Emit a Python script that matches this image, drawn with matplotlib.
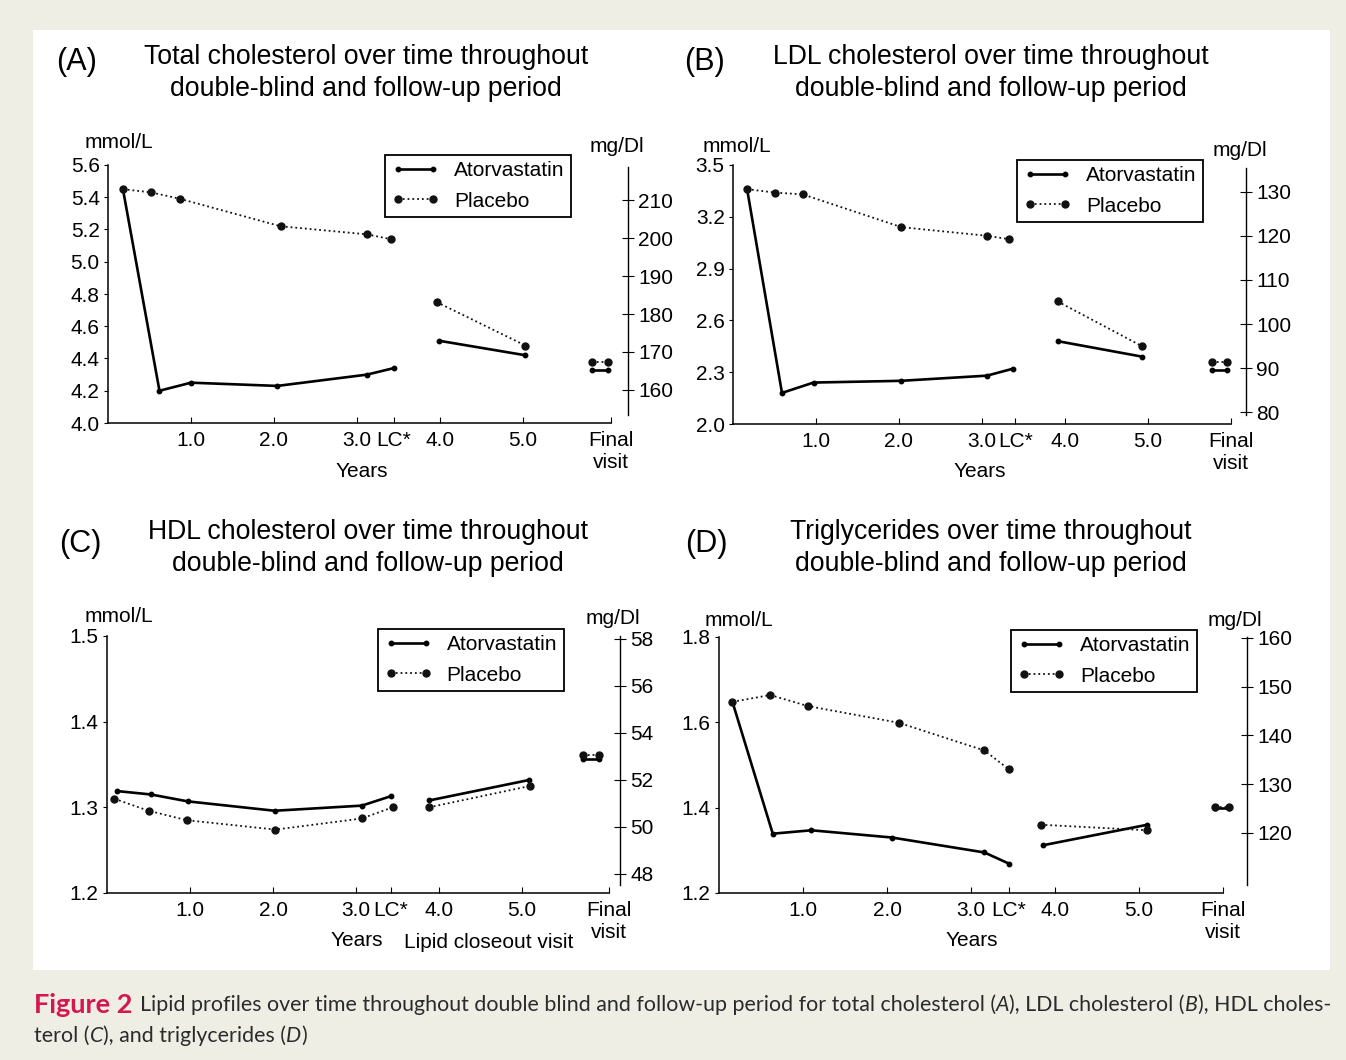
import matplotlib
matplotlib.use("Agg")
import matplotlib.pyplot as plt
from matplotlib.patches import Rectangle

W, H = 1346, 1060
plt.rcParams['font.family'] = ['Liberation Sans', 'DejaVu Sans']

# ---------------- data ----------------
# Panel A: total cholesterol (mmol/L)
a_plac_x = [0.18, 0.52, 0.87, 2.08, 3.12, 3.41]
a_plac_y = [5.45, 5.43, 5.39, 5.22, 5.17, 5.14]
a_ator_x = [0.18, 0.62, 1.00, 2.04, 3.12, 3.44]
a_ator_y = [5.45, 4.20, 4.25, 4.23, 4.30, 4.34]
a_plac_fx = [3.96, 5.03]
a_plac_fy = [4.75, 4.48]
a_ator_fx = [3.99, 5.03]
a_ator_fy = [4.51, 4.42]
a_final_plac = 4.38
a_final_ator = 4.33

# Panel B: LDL cholesterol
b_plac_x = [0.17, 0.51, 0.84, 2.03, 3.06, 3.33]
b_plac_y = [3.36, 3.34, 3.33, 3.14, 3.09, 3.07]
b_ator_x = [0.17, 0.59, 0.97, 2.02, 3.06, 3.37]
b_ator_y = [3.36, 2.18, 2.24, 2.25, 2.28, 2.32]
b_plac_fx = [3.91, 4.93]
b_plac_fy = [2.71, 2.45]
b_ator_fx = [3.91, 4.93]
b_ator_fy = [2.48, 2.39]
b_final_plac = 2.36
b_final_ator = 2.31

# Panel C: HDL cholesterol
c_plac_x = [0.09, 0.50, 0.96, 2.03, 3.07, 3.44]
c_plac_y = [1.310, 1.296, 1.285, 1.274, 1.287, 1.300]
c_ator_x = [0.12, 0.53, 0.97, 2.02, 3.07, 3.42]
c_ator_y = [1.319, 1.315, 1.307, 1.296, 1.302, 1.313]
c_plac_fx = [3.88, 5.10]
c_plac_fy = [1.300, 1.325]
c_ator_fx = [3.88, 5.09]
c_ator_fy = [1.308, 1.332]
c_final_plac = 1.361
c_final_ator = 1.356

# Panel D: triglycerides
d_plac_x = [0.16, 0.61, 1.06, 2.14, 3.16, 3.45]
d_plac_y = [1.648, 1.664, 1.638, 1.599, 1.534, 1.490]
d_ator_x = [0.16, 0.64, 1.10, 2.06, 3.16, 3.45]
d_ator_y = [1.648, 1.339, 1.347, 1.330, 1.295, 1.269]
d_plac_fx = [3.83, 5.10]
d_plac_fy = [1.360, 1.347]
d_ator_fx = [3.86, 5.10]
d_ator_fy = [1.312, 1.360]
d_final_plac = 1.401
d_final_ator = 1.399

x_tick_labels = ["1.0", "2.0", "3.0", "LC*", "4.0", "5.0", "Final\nvisit"]
a_xticks = [1.0, 2.0, 3.0, 3.44, 4.0, 5.0, 6.06]
b_xticks = [1.0, 2.0, 3.0, 3.40, 4.0, 5.0, 6.00]
c_xticks = [1.0, 2.0, 3.0, 3.42, 4.0, 5.0, 6.05]
d_xticks = [1.0, 2.0, 3.0, 3.45, 4.0, 5.0, 6.00]

a_yticks = [4.0, 4.2, 4.4, 4.6, 4.8, 5.0, 5.2, 5.4, 5.6]
b_yticks = [2.0, 2.3, 2.6, 2.9, 3.2, 3.5]
c_yticks = [1.2, 1.3, 1.4, 1.5]
d_yticks = [1.2, 1.4, 1.6, 1.8]

a_rticks = [160, 170, 180, 190, 200, 210]
b_rticks = [80, 90, 100, 110, 120, 130]
c_rticks = [48, 50, 52, 54, 56, 58]
d_rticks = [120, 130, 140, 150, 160]

titles = ["Total cholesterol over time throughout\ndouble-blind and follow-up period",
          "LDL cholesterol over time throughout\ndouble-blind and follow-up period",
          "HDL cholesterol over time throughout\ndouble-blind and follow-up period",
          "Triglycerides over time throughout\ndouble-blind and follow-up period"]
panel_tags = ["(A)", "(B)", "(C)", "(D)"]
series_names = ["Atorvastatin", "Placebo"]

# ---------------- figure ----------------
fig = plt.figure(figsize=(W / 100, H / 100), dpi=100)
fig.patch.set_facecolor('#eeeee5')
fig.patches.append(Rectangle((33 / W, 1 - 970 / H), (1330 - 33) / W, (970 - 30) / H,
                             transform=fig.transFigure, facecolor='white', edgecolor='none',
                             zorder=-10))


def ftxt(x, y, s, **kw):
    return fig.text(x / W, 1 - y / H, s, **kw)


def make_panel(cfg):
    x0, ytop, ybot, ppy = cfg['left'], cfg['top'], cfg['bottom'], cfg['ppy']
    xmax = 6.45
    ax = fig.add_axes([x0 / W, 1 - ybot / H, xmax * ppy / W, (ybot - ytop) / H])
    ax.set_facecolor('none')
    ylo, yhi = cfg['ylim']
    ax.set_xlim(0, xmax)
    ax.set_ylim(ylo, yhi)
    for s in ['top', 'right']:
        ax.spines[s].set_visible(False)
    ax.spines['left'].set_bounds(ylo, yhi)
    ax.spines['bottom'].set_bounds(0, cfg['xticks'][-1])
    for s in ['left', 'bottom']:
        ax.spines[s].set_linewidth(1.1)
    ax.set_xticks(cfg['xticks'])
    ax.set_xticklabels(x_tick_labels)
    ax.set_yticks(cfg['yticks'])
    ax.set_yticklabels(["%.1f" % v for v in cfg['yticks']])
    ax.tick_params(axis='x', direction='in', length=4, width=0.8, labelsize=15, pad=6)
    ax.tick_params(axis='y', direction='out', length=3, width=0.8, labelsize=15, pad=3)

    kw_a = dict(color='black', lw=1.9, marker='o', ms=3.2, clip_on=False, zorder=3)
    kw_p = dict(color='#111111', lw=1.3, ls=':', marker='o', ms=5.0, clip_on=False, zorder=3)
    ax.plot(cfg['ator_x'], cfg['ator_y'], label=series_names[0], **kw_a)
    ax.plot(cfg['plac_x'], cfg['plac_y'], label=series_names[1], **kw_p)
    ax.plot(cfg['ator_fx'], cfg['ator_fy'], **kw_a)
    ax.plot(cfg['plac_fx'], cfg['plac_fy'], **kw_p)
    fx = cfg['final_x']
    ax.plot(fx, [cfg['final_ator']] * 2, **kw_a)
    ax.plot(fx, [cfg['final_plac']] * 2, **kw_p)

    lx, ly = cfg['legend']
    leg = ax.legend(loc='upper left', bbox_to_anchor=(lx / W, 1 - ly / H),
                    bbox_transform=fig.transFigure, borderaxespad=0, fancybox=False,
                    edgecolor='black', framealpha=1, fontsize=15, numpoints=2,
                    handlelength=2.3, handletextpad=0.7, labelspacing=0.55,
                    borderpad=0.3)
    leg.get_frame().set_linewidth(1.3)

    # right (mg/dL) axis
    (ma, ga), (mb, gb) = cfg['rcal']
    k = (ga - gb) / (ma - mb)
    to_mg = lambda m: gb + (m - mb) * k
    ax2 = ax.twinx()
    for s in ['top', 'left', 'bottom']:
        ax2.spines[s].set_visible(False)
    ax2.spines['right'].set_position(('data', cfg['rx']))
    ax2.spines['right'].set_linewidth(1.0)
    ax2.set_ylim(to_mg(ylo), to_mg(yhi))
    rb0, rb1 = cfg['rbounds']
    ax2.spines['right'].set_bounds(to_mg(rb0), to_mg(rb1))
    ax2.set_yticks(cfg['rticks'])
    ax2.tick_params(axis='y', direction='inout', length=9, width=0.8, labelsize=15, pad=3)

    ftxt(cfg['mmol'][0], cfg['mmol'][1], "mmol/L", fontsize=15, ha='left', va='center')
    ftxt(cfg['mg'][0], cfg['mg'][1], "mg/Dl", fontsize=15, ha='center', va='center')
    ftxt(cfg['tag'][0], cfg['tag'][1], cfg['tagtxt'], fontsize=22, ha='center', va='center')
    ftxt(cfg['title'][0], cfg['title'][1], cfg['titletxt'], fontsize=19.2, ha='center',
         va='center', linespacing=1.33)
    for (tx, ty, s) in cfg['xlabels']:
        ftxt(tx, ty, s, fontsize=15, ha='center', va='center')
    return ax


panels = [
    dict(left=108, top=165, bottom=423, ppy=83, ylim=(4.0, 5.6), xticks=a_xticks, yticks=a_yticks,
         ator_x=a_ator_x, ator_y=a_ator_y, plac_x=a_plac_x, plac_y=a_plac_y,
         ator_fx=a_ator_fx, ator_fy=a_ator_fy, plac_fx=a_plac_fx, plac_fy=a_plac_fy,
         final_x=[5.83, 6.02], final_ator=a_final_ator, final_plac=a_final_plac,
         legend=(385, 155), rcal=((5.380, 210), (4.206, 160)), rx=6.26, rbounds=(4.05, 5.585),
         rticks=a_rticks, mmol=(85, 143), mg=(617, 147), tag=(77, 62), tagtxt=panel_tags[0],
         title=(366, 73), titletxt=titles[0], xlabels=[(362, 471, "Years")]),
    dict(left=733, top=165, bottom=424, ppy=83, ylim=(2.0, 3.5), xticks=b_xticks, yticks=b_yticks,
         ator_x=b_ator_x, ator_y=b_ator_y, plac_x=b_plac_x, plac_y=b_plac_y,
         ator_fx=b_ator_fx, ator_fy=b_ator_fy, plac_fx=b_plac_fx, plac_fy=b_plac_fy,
         final_x=[5.77, 5.95], final_ator=b_final_ator, final_plac=b_final_plac,
         legend=(1017, 160), rcal=((3.346, 130), (2.067, 80)), rx=6.18, rbounds=(2.054, 3.485),
         rticks=b_rticks, mmol=(703, 147), mg=(1240, 150), tag=(705, 62), tagtxt=panel_tags[1],
         title=(991, 73), titletxt=titles[1], xlabels=[(980, 471, "Years")]),
    dict(left=107, top=636, bottom=893, ppy=83, ylim=(1.2, 1.5), xticks=c_xticks, yticks=c_yticks,
         ator_x=c_ator_x, ator_y=c_ator_y, plac_x=c_plac_x, plac_y=c_plac_y,
         ator_fx=c_ator_fx, ator_fy=c_ator_fy, plac_fx=c_plac_fx, plac_fy=c_plac_fy,
         final_x=[5.74, 5.93], final_ator=c_final_ator, final_plac=c_final_plac,
         legend=(378, 629), rcal=((1.4969, 58), (1.2225, 48)), rx=6.18, rbounds=(1.209, 1.5),
         rticks=c_rticks, mmol=(85, 617), mg=(613, 619), tag=(80, 544), tagtxt=panel_tags[2],
         title=(368, 548), titletxt=titles[2],
         xlabels=[(357, 941, "Years"), (489, 942, "Lipid closeout visit")]),
    dict(left=719, top=637, bottom=893, ppy=84, ylim=(1.2, 1.8), xticks=d_xticks, yticks=d_yticks,
         ator_x=d_ator_x, ator_y=d_ator_y, plac_x=d_plac_x, plac_y=d_plac_y,
         ator_fx=d_ator_fx, ator_fy=d_ator_fy, plac_fx=d_plac_fx, plac_fy=d_plac_fy,
         final_x=[5.91, 6.07], final_ator=d_final_ator, final_plac=d_final_plac,
         legend=(1011, 630), rcal=((1.7977, 160), (1.3411, 120)), rx=6.29, rbounds=(1.218, 1.8),
         rticks=d_rticks, mmol=(705, 620), mg=(1235, 620), tag=(706, 544), tagtxt=panel_tags[3],
         title=(991, 548), titletxt=titles[3], xlabels=[(972, 941, "Years")]),
]

for p in panels:
    make_panel(p)

# ---------------- caption ----------------
renderer = fig.canvas.get_renderer()
cap_font = ['Lato', 'DejaVu Sans']
cap_size = 15.4
cap_color = '#2b2b2b'
line1 = [("Figure 2", dict(color='#d4174f', fontweight='bold', fontsize=19.5)),
         ("Lipid profiles over time throughout double blind and follow-up period for total cholesterol (", {}),
         ("A", dict(style='italic')), ("), LDL cholesterol (", {}), ("B", dict(style='italic')),
         ("), HDL choles-", {})]
line2 = [("terol (", {}), ("C", dict(style='italic')), ("), and triglycerides (", {}),
         ("D", dict(style='italic')), (")", {})]


def draw_runs(runs, x, y, gap_after_first=0):
    for i, (s, st) in enumerate(runs):
        kw = dict(fontsize=cap_size, color=cap_color, family=cap_font, ha='left', va='center')
        kw.update(st)
        t = ftxt(x, y, s, **kw)
        bb = t.get_window_extent(renderer=renderer)
        x += bb.width
        if i == 0:
            x += gap_after_first


draw_runs(line1, 34, 1005, gap_after_first=7)
draw_runs(line2, 34, 1036)

fig.savefig("out.png", dpi=100, facecolor=fig.get_facecolor())
